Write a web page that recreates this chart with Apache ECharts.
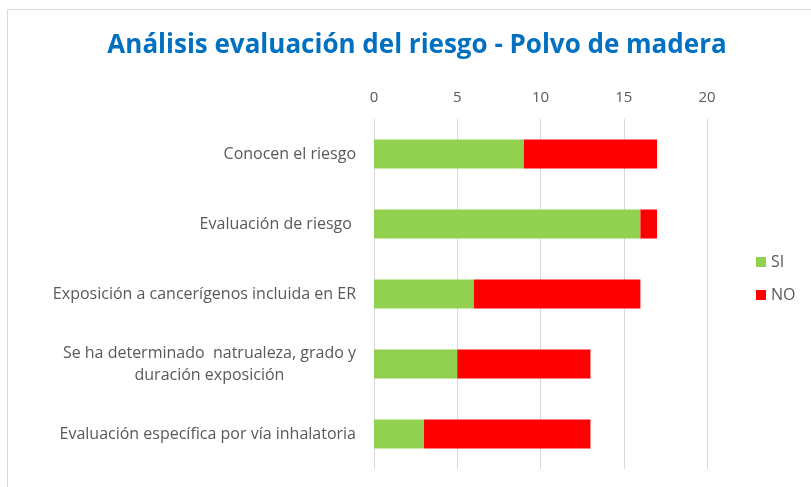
<!DOCTYPE html>
<html>
<head>
<meta charset="utf-8">
<script src="https://cdn.jsdelivr.net/npm/echarts@6/dist/echarts.min.js"></script>
<style>
  html, body { margin: 0; padding: 0; background: #fff; }
  #chart { width: 811px; height: 487px; }
</style>
</head>
<body>
<div id="chart"></div>
<script>
const categories = [
  'Conocen el riesgo',
  'Evaluación de riesgo ',
  'Exposición a cancerígenos incluida en ER',
  'Se ha determinado  natrualeza, grado y\nduración exposición',
  'Evaluación específica por vía inhalatoria'
];
const siValues = [9, 16, 6, 5, 3];
const noValues = [8, 1, 10, 8, 10];
const xTicks = { min: 0, max: 20, interval: 5 };

const font = 'Open Sans, Liberation Sans, sans-serif';
const chart = echarts.init(document.getElementById('chart'), null, { renderer: 'canvas' });

chart.setOption({
  backgroundColor: '#fff',
  animation: false,
  title: {
    text: 'Análisis evaluación del riesgo - Polvo de madera',
    left: 412,
    top: 28,
    textAlign: 'center',
    textStyle: { color: '#0070C0', fontSize: 26, fontWeight: 'bold', fontFamily: font }
  },
  graphic: [{
    type: 'rect',
    shape: { x: 7.5, y: 9.5, width: 820, height: 500 },
    style: { fill: 'none', stroke: '#d9d9d9', lineWidth: 1 },
    silent: true
  }],
  legend: {
    orient: 'vertical',
    left: 751,
    top: 249,
    itemWidth: 10,
    itemHeight: 10,
    itemGap: 17,
    icon: 'rect',
    textStyle: { color: '#595959', fontSize: 16, fontFamily: font },
    data: ['SI', 'NO']
  },
  grid: { left: 374, top: 119, width: 333, height: 350, containLabel: false },
  xAxis: {
    type: 'value',
    position: 'top',
    min: xTicks.min,
    max: xTicks.max,
    interval: xTicks.interval,
    axisLine: { show: false },
    axisTick: { show: false },
    axisLabel: { color: '#595959', fontSize: 15, fontFamily: font, margin: 14 },
    splitLine: { lineStyle: { color: '#d9d9d9', width: 1 } }
  },
  yAxis: {
    type: 'category',
    inverse: true,
    data: categories,
    axisLine: { show: false },
    axisTick: { show: false },
    axisLabel: {
      color: '#595959',
      fontSize: 16,
      fontFamily: font,
      margin: 18,
      lineHeight: 22,
      formatter: v => v.split('\n').map(s => '{c|' + s + '}').join('\n'),
      rich: { c: { align: 'center', color: '#595959', fontSize: 16, fontFamily: font, lineHeight: 22 } }
    }
  },
  series: [
    {
      name: 'SI', type: 'bar', stack: 'total', data: siValues,
      barWidth: 29, itemStyle: { color: '#92D050' }
    },
    {
      name: 'NO', type: 'bar', stack: 'total', data: noValues,
      barWidth: 29, itemStyle: { color: '#FF0000' }
    }
  ]
});
</script>
</body>
</html>
